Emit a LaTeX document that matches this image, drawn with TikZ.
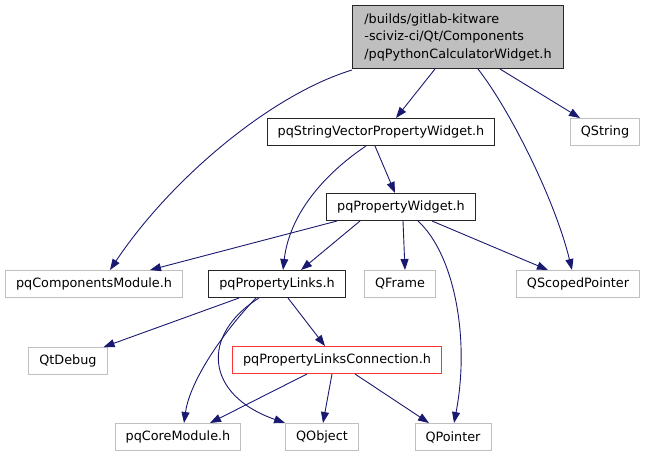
\documentclass[tikz,border=0pt]{standalone}
\usepackage{fontspec}
\setmainfont{DejaVu Sans}
\usetikzlibrary{arrows.meta}
\definecolor{edgeblue}{HTML}{191970}
\definecolor{extgray}{HTML}{BFBFBF}
\definecolor{linkred}{HTML}{FF3333}
\tikzset{
  incfile/.style={draw=black!85, line width=1pt, inner xsep=10.5pt, minimum height=27pt,
    font=\fontsize{12.8}{17.5}\selectfont},
  extfile/.style={incfile, draw=extgray},
  incedge/.style={draw=edgeblue, line width=0.9pt, -{Triangle[length=11pt,width=8pt]}}
}

\begin{document}
\begin{tikzpicture}[x=1pt,y=-1pt]
        \useasboundingbox (0,0) rectangle (648,459);

        \node[incfile, fill=extgray, align=left, minimum width=211pt, minimum height=63pt] (main) at (458,37)
            {/builds/gitlab-kitware\\-sciviz-ci/Qt/Components\\/pqPythonCalculatorWidget.h};

        \node[incfile] (sv) at (381,132) {pqStringVectorPropertyWidget.h};
        \node[extfile] (qstring) at (605,132) {QString};

        \node[incfile] (pw) at (401,207) {pqPropertyWidget.h};

        \node[extfile] (cm) at (94,284) {pqComponentsModule.h};
        \node[incfile] (pl) at (277,284) {pqPropertyLinks.h};
        \node[extfile] (qframe) at (400,284) {QFrame};
        \node[extfile] (qsp) at (578,284) {QScopedPointer};

        \node[extfile] (qtdebug) at (68,361) {QtDebug};
        \node[incfile, draw=linkred] (plc) at (337,360) {pqPropertyLinksConnection.h};

        \node[extfile] (core) at (178,437) {pqCoreModule.h};
        \node[extfile] (qobject) at (322,437) {QObject};
        \node[extfile] (qpointer) at (453,437) {QPointer};

        \draw[incedge] ([xshift=-23pt]main.south) -- ([xshift=15pt]sv.north);
        \draw[incedge] ([xshift=42pt]main.south) -- ([xshift=-25pt]qstring.north);
        \draw[incedge] ([xshift=20pt]main.south) .. controls (510,110) and (555,200) .. ([xshift=-6pt]qsp.north);
        \draw[incedge] ([yshift=-1pt]main.south west) .. controls (270,95) and (170,180) .. ([xshift=16pt]cm.north);

        \draw[incedge] ([xshift=-6pt]sv.south) -- ([xshift=-6pt]pw.north);
        \draw[incedge] ([xshift=-15pt]sv.south) .. controls (330,170) and (290,210) .. ([xshift=6pt]pl.north);

        \draw[incedge] ([xshift=-64pt]pw.south) -- ([xshift=56pt]cm.north);
        \draw[incedge] ([xshift=-41pt]pw.south) -- ([xshift=24pt]pl.north);
        \draw[incedge] ([xshift=2pt]pw.south) -- ([xshift=5pt]qframe.north);
        \draw[incedge] ([xshift=31pt]pw.south) -- ([xshift=-30pt]qsp.north);
        \draw[incedge] ([xshift=17pt]pw.south) .. controls (455,255) and (470,340) .. ([xshift=1pt]qpointer.north);

        \draw[incedge] ([xshift=-38pt]pl.south) -- ([xshift=-4pt]qtdebug.north east);
        \draw[incedge] ([xshift=11pt]pl.south) -- ([xshift=-12pt]plc.north);
        \draw[incedge] ([xshift=-21pt]pl.south) .. controls (225,330) and (190,380) .. ([xshift=6pt]core.north);
        \draw[incedge] ([xshift=-18pt]pl.south) .. controls (200,335) and (205,395) .. (qobject.north west);

        \draw[incedge] ([xshift=-30pt]plc.south) -- ([xshift=32pt]core.north);
        \draw[incedge] ([xshift=-5pt]plc.south) -- ([xshift=1pt]qobject.north);
        \draw[incedge] ([xshift=18pt]plc.south) -- ([xshift=-24pt]qpointer.north);

    \end{tikzpicture}
\end{document}
